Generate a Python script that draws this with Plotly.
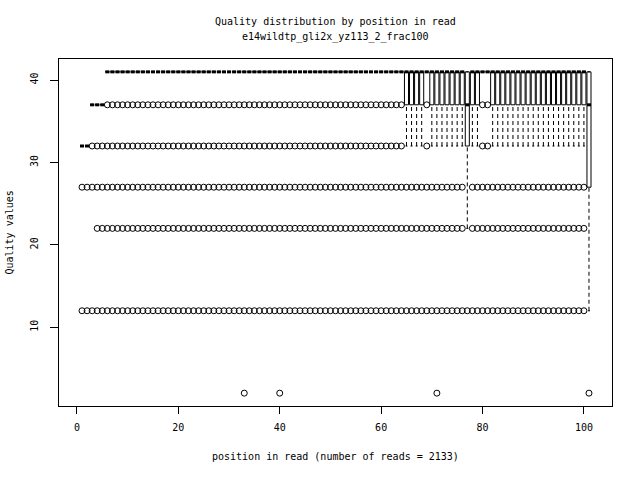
import plotly.graph_objects as go

# ---------------- data ----------------
positions = list(range(1, 102))

q1 = [32, 32, 37, 37, 37, 41, 41, 41, 41, 41,
      41, 41, 41, 41, 41, 41, 41, 41, 41, 41,
      41, 41, 41, 41, 41, 41, 41, 41, 41, 41,
      41, 41, 41, 41, 41, 41, 41, 41, 41, 41,
      41, 41, 41, 41, 41, 41, 41, 41, 41, 41,
      41, 41, 41, 41, 41, 41, 41, 41, 41, 41,
      41, 41, 41, 41, 37, 37, 37, 37, 41, 37,
      37, 37, 37, 37, 37, 37, 32, 37, 37, 41,
      41, 37, 37, 37, 37, 37, 37, 37, 37, 37,
      37, 37, 37, 37, 37, 37, 37, 37, 37, 37,
      27]

median = [32, 32, 37, 37, 37, 41, 41, 41, 41, 41,
          41, 41, 41, 41, 41, 41, 41, 41, 41, 41,
          41, 41, 41, 41, 41, 41, 41, 41, 41, 41,
          41, 41, 41, 41, 41, 41, 41, 41, 41, 41,
          41, 41, 41, 41, 41, 41, 41, 41, 41, 41,
          41, 41, 41, 41, 41, 41, 41, 41, 41, 41,
          41, 41, 41, 41, 41, 41, 41, 41, 41, 41,
          41, 41, 41, 41, 41, 41, 37, 41, 41, 41,
          41, 41, 41, 41, 41, 41, 41, 41, 41, 41,
          41, 41, 41, 41, 41, 41, 41, 41, 41, 41,
          37]

q3 = [32, 32, 37, 37, 37, 41, 41, 41, 41, 41,
      41, 41, 41, 41, 41, 41, 41, 41, 41, 41,
      41, 41, 41, 41, 41, 41, 41, 41, 41, 41,
      41, 41, 41, 41, 41, 41, 41, 41, 41, 41,
      41, 41, 41, 41, 41, 41, 41, 41, 41, 41,
      41, 41, 41, 41, 41, 41, 41, 41, 41, 41,
      41, 41, 41, 41, 41, 41, 41, 41, 41, 41,
      41, 41, 41, 41, 41, 41, 41, 41, 41, 41,
      41, 41, 41, 41, 41, 41, 41, 41, 41, 41,
      41, 41, 41, 41, 41, 41, 41, 41, 41, 41,
      41]

whisker_low = [32, 32, 37, 37, 37, 41, 41, 41, 41, 41,
               41, 41, 41, 41, 41, 41, 41, 41, 41, 41,
               41, 41, 41, 41, 41, 41, 41, 41, 41, 41,
               41, 41, 41, 41, 41, 41, 41, 41, 41, 41,
               41, 41, 41, 41, 41, 41, 41, 41, 41, 41,
               41, 41, 41, 41, 41, 41, 41, 41, 41, 41,
               41, 41, 41, 41, 32, 32, 32, 32, 41, 32,
               32, 32, 32, 32, 32, 32, 22, 32, 32, 41,
               41, 32, 32, 32, 32, 32, 32, 32, 32, 32,
               32, 32, 32, 32, 32, 32, 32, 32, 32, 32,
               12]

whisker_high = q3

# outlier positions for each quality level
outlier_37 = list(range(6, 65)) + [69, 80, 81]
outlier_32 = list(range(3, 65)) + [69, 80, 81]
outlier_27 = list(range(1, 77)) + list(range(78, 101))
outlier_22 = list(range(4, 77)) + list(range(78, 101))
outlier_12 = list(range(1, 101))
outlier_2 = [33, 40, 71, 101]

x_ticks = [0, 20, 40, 60, 80, 100]
y_ticks = [10, 20, 30, 40]

title_1 = "Quality distribution by position in read"
title_2 = "e14wildtp_gli2x_yz113_2_frac100"
x_title = "position in read (number of reads = 2133)"
y_title = "Quality values"

# ---------------- geometry built from the data ----------------
BOXW = 0.4      # half box width (boxwex 0.8)
STAPLE = 0.2    # half staple width

wx, wy = [], []
sx, sy = [], []
bx, by = [], []
mx, my = [], []
for p, a, m, b, lo, hi in zip(positions, q1, median, q3, whisker_low, whisker_high):
    if lo < a:
        wx += [p, p, None]; wy += [lo, a, None]
    if hi > b:
        wx += [p, p, None]; wy += [b, hi, None]
    sx += [p - STAPLE, p + STAPLE, None, p - STAPLE, p + STAPLE, None]
    sy += [lo, lo, None, hi, hi, None]
    bx += [p - BOXW, p + BOXW, p + BOXW, p - BOXW, p - BOXW, None]
    by += [a, a, b, b, a, None]
    mx += [p - BOXW, p + BOXW, None]
    my += [m, m, None]

ox, oy = [], []
for val, plist in [(37, outlier_37), (32, outlier_32), (27, outlier_27),
                   (22, outlier_22), (12, outlier_12), (2, outlier_2)]:
    ox += plist
    oy += [val] * len(plist)

FONT = "DejaVu Sans Mono"
TXT = dict(family=FONT, size=10, color="black")
fig = go.Figure()
fig.add_trace(go.Scatter(x=wx, y=wy, mode="lines",
                         line=dict(color="black", width=1, dash="4px,3px"),
                         hoverinfo="skip"))
fig.add_trace(go.Scatter(x=sx, y=sy, mode="lines",
                         line=dict(color="black", width=1), hoverinfo="skip"))
fig.add_trace(go.Scatter(x=bx, y=by, mode="lines",
                         line=dict(color="black", width=1), hoverinfo="skip"))
fig.add_trace(go.Scatter(x=mx, y=my, mode="lines",
                         line=dict(color="black", width=3), hoverinfo="skip"))
fig.add_trace(go.Scatter(x=ox, y=oy, mode="markers",
                         marker=dict(symbol="circle-open", size=6, color="black",
                                     line=dict(width=1, color="black"))))

fig.update_layout(
    width=640, height=480,
    margin=dict(l=59, r=28, t=59, b=74),
    paper_bgcolor="white", plot_bgcolor="white",
    showlegend=False,
    font=TXT,
    xaxis=dict(range=[-3.54, 105.54], tickvals=x_ticks, showgrid=False, zeroline=False,
               showline=True, mirror=True, linecolor="black", linewidth=1,
               ticks="outside", ticklen=7, tickcolor="black", ticklabelstandoff=5,
               tickfont=TXT),
    yaxis=dict(range=[0.44, 42.56], tickvals=y_ticks, showgrid=False, zeroline=False,
               showline=True, mirror=True, linecolor="black", linewidth=1,
               ticks="outside", ticklen=8, tickcolor="black", tickangle=-90,
               ticklabelstandoff=8,
               tickfont=TXT),
    annotations=[
        dict(text=title_1, xref="paper", yref="paper", x=0.5, y=1 + 37 / 347,
             xanchor="center", yanchor="middle", showarrow=False, font=TXT),
        dict(text=title_2, xref="paper", yref="paper", x=0.5, y=1 + 22 / 347,
             xanchor="center", yanchor="middle", showarrow=False, font=TXT),
        dict(text=x_title, xref="paper", yref="paper", x=0.5, y=-51 / 347,
             xanchor="center", yanchor="middle", showarrow=False, font=TXT),
        dict(text=y_title, xref="paper", yref="paper", x=(9 - 59) / 553, y=0.5,
             xanchor="center", yanchor="middle", showarrow=False, textangle=-90,
             font=TXT),
    ],
)

fig.write_html("out.html", config={"displayModeBar": False},
               post_script="document.body.style.margin='0';")
